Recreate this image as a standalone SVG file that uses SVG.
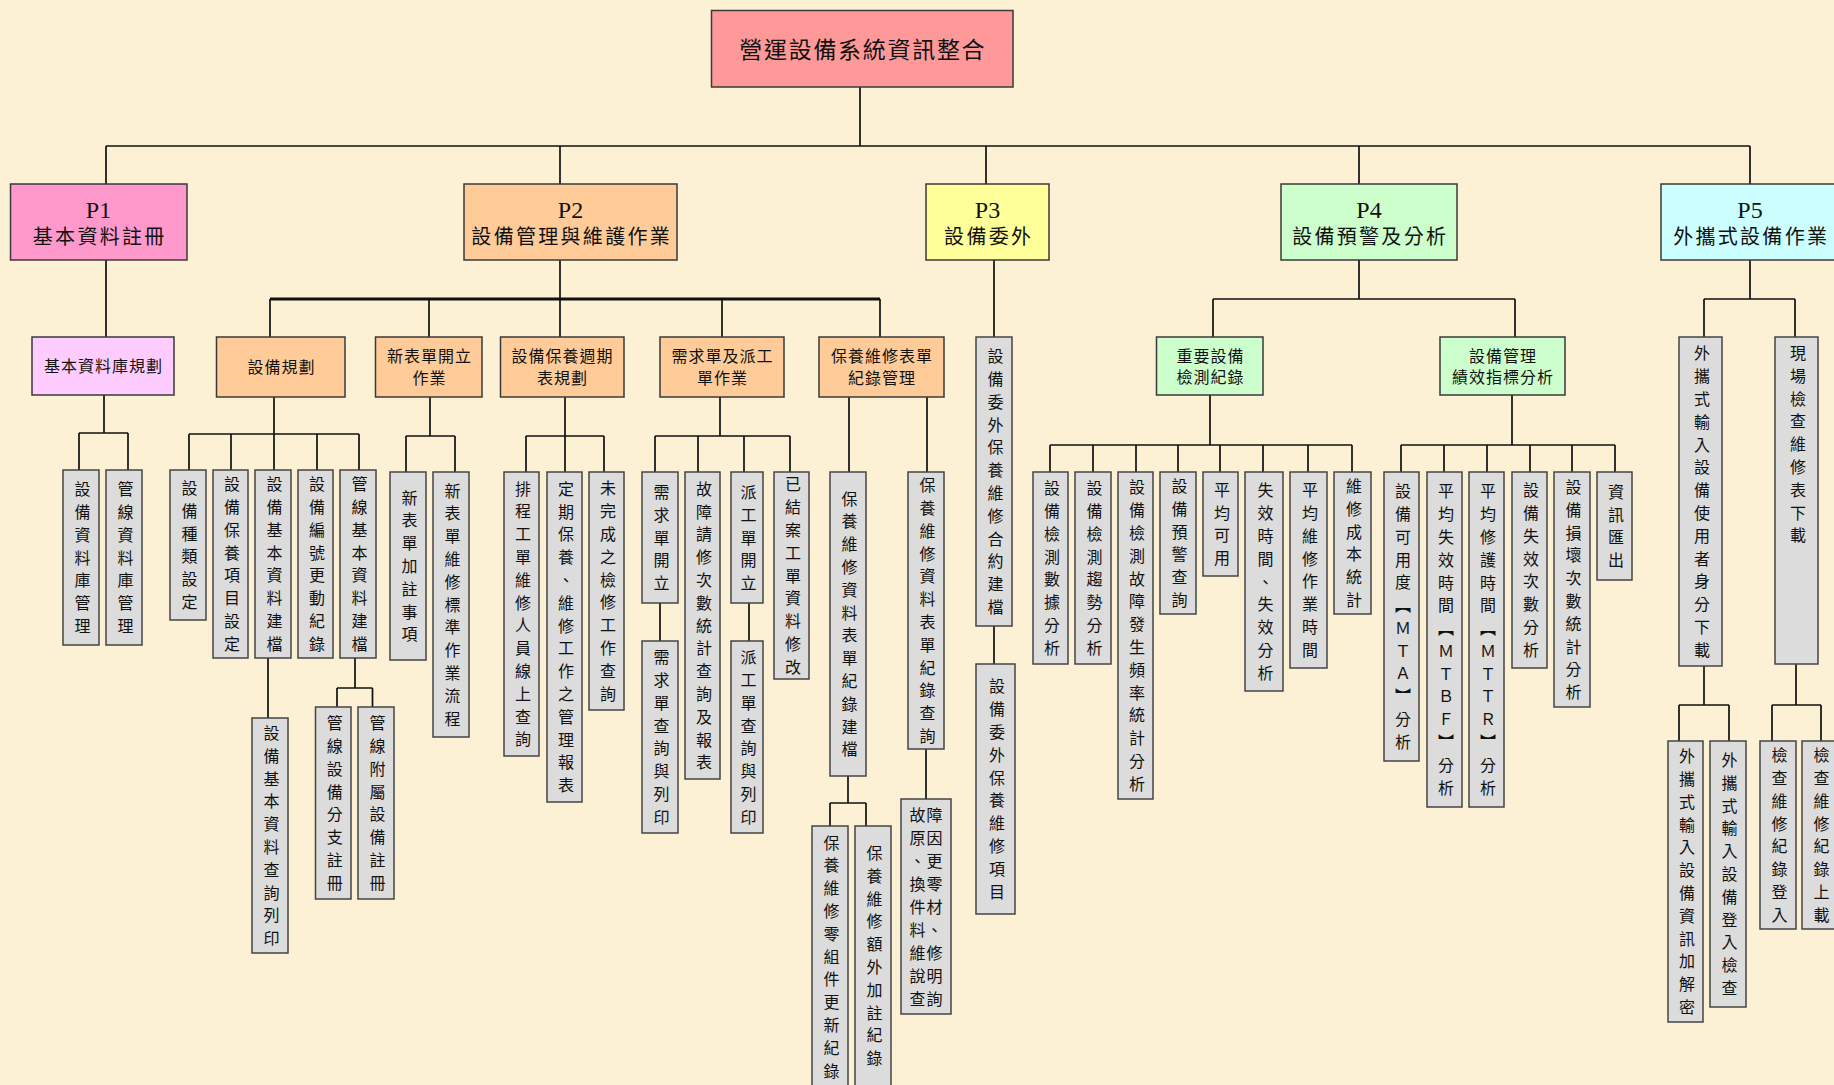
<svg xmlns="http://www.w3.org/2000/svg" width="1834" height="1085" viewBox="0 0 1834 1085">
<style>
text{font-family:"Liberation Serif","Noto Sans CJK TC","Noto Sans CJK SC",serif;fill:#111}
.box{stroke:#3a3a3a;stroke-width:1.5}
.leaf{fill:#DCDCDC;stroke:#444;stroke-width:1.5}
.c0{fill:#FF9999}.c1{fill:#FF99CC}.c2{fill:#FFCC99}.c3{fill:#FFFF99}.c4{fill:#CCFFCC}.c5{fill:#CCFFFF}.c1b{fill:#FFCCFF}
.v{writing-mode:vertical-rl;text-orientation:upright;font-size:16px;letter-spacing:6.8px;text-anchor:middle}
.vs{writing-mode:vertical-rl;text-orientation:upright;font-size:16px;letter-spacing:6.8px;text-anchor:start}
.h2{font-size:16px;letter-spacing:1px;text-anchor:middle;dominant-baseline:central}
.h1{font-size:20px;letter-spacing:2.3px;text-anchor:middle;dominant-baseline:central}
.p{font-size:24px;text-anchor:middle}
.ln{stroke:#111;stroke-width:1.7;fill:none}
.lnb{stroke:#111;stroke-width:3;fill:none}
</style>
<rect x="0" y="0" width="1834" height="1085" fill="#FCF0D5"/>

<g id="connectors">
<path class="ln" d="M860,87V146M106,146H1750M106,146V184M560,146V184M986,146V184M1359,146V184M1750,146V184"/>
<path class="ln" d="M106,260V337M104,395V433M79,433H128M79,433V470M128,433V470"/>
<path class="ln" d="M560,260V299M270,299V337M429,299V337M560,299V337M722,299V337M880,299V337"/>
<path class="lnb" d="M270,299H880"/>
<path class="ln" d="M274,397V434M189,434H359M189,434V470M231,434V470M274,434V470M317,434V470M359,434V470"/>
<path class="ln" d="M268,658V718M355,658V688M337,688H372.5M337,688V707M372.5,688V707"/>
<path class="ln" d="M430,397V436M406,436H455M406,436V472M455,436V472"/>
<path class="ln" d="M565,397V436M526,436H604M526,436V472M565,436V472M604,436V472"/>
<path class="ln" d="M720,397V436M655,436H790M655,436V472M698,436V472M744,436V472M790,436V472M660,603V641M749,603V641"/>
<path class="ln" d="M849,397V472M927,397V472M848,776V803M830,803H866M830,803V826M866,803V826M926,749V799"/>
<path class="ln" d="M994,260V337M994,626V664"/>
<path class="ln" d="M1359,260V299M1213,299H1515M1213,299V337M1515,299V337"/>
<path class="ln" d="M1210,395V445M1050,445H1352M1050,445V472M1093,445V472M1136,445V472M1178,445V472M1220,445V472M1263,445V472M1308,445V472M1352,445V472"/>
<path class="ln" d="M1512,395V445M1401,445H1615M1401,445V472M1444,445V472M1487,445V472M1530,445V472M1572,445V472M1615,445V472"/>
<path class="ln" d="M1750,260V299M1704,299H1795M1704,299V337M1795,299V337"/>
<path class="ln" d="M1704,666V705M1679,705H1729M1679,705V741M1729,705V741M1796,664V705M1772,705H1821M1772,705V741M1821,705V741"/>
</g>

<g id="root"><rect class="box c0" x="711.5" y="10.5" width="301.5" height="76.5"/><text x="862.8" y="50" style="font-size:23px;letter-spacing:1.7px;text-anchor:middle;dominant-baseline:central">營運設備系統資訊整合</text></g>

<g id="P1"><rect class="box c1" x="10.5" y="184" width="176.5" height="76"/><text class="p" x="98.5" y="218">P1</text><text class="h1" x="99.7" y="237">基本資料註冊</text></g>
<g id="P2"><rect class="box c2" x="464" y="184" width="213" height="76"/><text class="p" x="570.5" y="218">P2</text><text class="h1" x="571.7" y="237">設備管理與維護作業</text></g>
<g id="P3"><rect class="box c3" x="926" y="184" width="123" height="76"/><text class="p" x="987.5" y="218">P3</text><text class="h1" x="988.7" y="237">設備委外</text></g>
<g id="P4"><rect class="box c4" x="1281" y="184" width="176" height="76"/><text class="p" x="1369" y="218">P4</text><text class="h1" x="1370.2" y="237">設備預警及分析</text></g>
<g id="P5"><rect class="box c5" x="1661" y="184" width="180" height="76"/><text class="p" x="1750" y="218">P5</text><text class="h1" x="1751.2" y="237">外攜式設備作業</text></g>

<g id="b1"><rect class="box c1b" x="32" y="337" width="142" height="58"/><text class="h2" x="103.5" y="366">基本資料庫規劃</text></g>
<g id="b21"><rect class="box c2" x="216.5" y="337" width="128.5" height="60"/><text class="h2" x="281.5" y="367.5">設備規劃</text></g>
<g id="b22"><rect class="box c2" x="375.5" y="337" width="106.5" height="60"/><text class="h2" x="429.5" y="356.5">新表單開立</text><text class="h2" x="429.5" y="378">作業</text></g>
<g id="b23"><rect class="box c2" x="500.5" y="337" width="123.5" height="60"/><text class="h2" x="562.5" y="356.5">設備保養週期</text><text class="h2" x="562.5" y="378">表規劃</text></g>
<g id="b24"><rect class="box c2" x="660" y="337" width="124" height="60"/><text class="h2" x="722.5" y="356.5">需求單及派工</text><text class="h2" x="722.5" y="378">單作業</text></g>
<g id="b25"><rect class="box c2" x="819" y="337" width="125" height="60"/><text class="h2" x="882" y="356.5">保養維修表單</text><text class="h2" x="882" y="378">紀錄管理</text></g>
<g id="b41"><rect class="box c4" x="1156.5" y="337" width="106.5" height="58"/><text class="h2" x="1210.5" y="356">重要設備</text><text class="h2" x="1210.5" y="377.5">檢測紀錄</text></g>
<g id="b42"><rect class="box c4" x="1440" y="337" width="125" height="58"/><text class="h2" x="1503" y="356">設備管理</text><text class="h2" x="1503" y="377.5">績效指標分析</text></g>

<g id="n11"><rect class="leaf" x="63" y="470" width="36" height="175"/><text class="v" x="81" y="560.9">設備資料庫管理</text></g>
<g id="n12"><rect class="leaf" x="106" y="470" width="36" height="175"/><text class="v" x="124" y="560.9">管線資料庫管理</text></g>

<g id="n21a"><rect class="leaf" x="170" y="470" width="36" height="150"/><text class="v" x="188" y="548.4">設備種類設定</text></g>
<g id="n21b"><rect class="leaf" x="213" y="470" width="35" height="188"/><text class="v" x="230.5" y="567.4">設備保養項目設定</text></g>
<g id="n21c"><rect class="leaf" x="255" y="470" width="36" height="188"/><text class="v" x="273" y="567.4">設備基本資料建檔</text></g>
<g id="n21d"><rect class="leaf" x="298" y="470" width="35" height="188"/><text class="v" x="315.5" y="567.4">設備編號更動紀錄</text></g>
<g id="n21e"><rect class="leaf" x="340" y="470" width="36" height="188"/><text class="v" x="358" y="567.4">管線基本資料建檔</text></g>
<g id="n21c1"><rect class="leaf" x="252" y="718" width="36" height="235"/><text class="v" x="270" y="838.9">設備基本資料查詢列印</text></g>
<g id="n21e1"><rect class="leaf" x="315.5" y="707" width="35.5" height="192"/><text class="v" x="333.2" y="806.4">管線設備分支註冊</text></g>
<g id="n21e2"><rect class="leaf" x="358" y="707" width="36" height="192"/><text class="v" x="376" y="806.4">管線附屬設備註冊</text></g>

<g id="n22a"><rect class="leaf" x="390" y="472" width="36" height="188"/><text class="v" x="408" y="569.4">新表單加註事項</text></g>
<g id="n22b"><rect class="leaf" x="433" y="472" width="36" height="265"/><text class="v" x="451" y="607.9">新表單維修標準作業流程</text></g>

<g id="n23a"><rect class="leaf" x="504" y="472" width="35" height="284"/><text class="v" x="521.5" y="617.4">排程工單維修人員線上查詢</text></g>
<g id="n23b"><rect class="leaf" x="547" y="472" width="35" height="330"/><text class="v" x="564.5" y="640.4">定期保養、維修工作之管理報表</text></g>
<g id="n23c"><rect class="leaf" x="589" y="472" width="35" height="238"/><text class="v" x="606.5" y="594.4">未完成之檢修工作查詢</text></g>

<g id="n24a"><rect class="leaf" x="642" y="472" width="36" height="131"/><text class="v" x="660" y="540.9">需求單開立</text></g>
<g id="n24a1"><rect class="leaf" x="642" y="641" width="36" height="192"/><text class="v" x="660" y="740.4">需求單查詢與列印</text></g>
<g id="n24b"><rect class="leaf" x="685" y="472" width="35" height="307"/><text class="v" x="702.5" y="628.9">故障請修次數統計查詢及報表</text></g>
<g id="n24c"><rect class="leaf" x="731" y="472" width="32" height="131"/><text class="v" x="747" y="540.9">派工單開立</text></g>
<g id="n24c1"><rect class="leaf" x="731" y="641" width="32" height="192"/><text class="v" x="747" y="740.4">派工單查詢與列印</text></g>
<g id="n24d"><rect class="leaf" x="774" y="472" width="35" height="207"/><text class="v" x="791.5" y="578.9">已結案工單資料修改</text></g>

<g id="n25a"><rect class="leaf" x="830" y="472" width="36" height="304"/><text class="v" x="848" y="627.4">保養維修資料表單紀錄建檔</text></g>
<g id="n25b"><rect class="leaf" x="908" y="472" width="36" height="277"/><text class="v" x="926" y="613.9">保養維修資料表單紀錄查詢</text></g>
<g id="n25a1"><rect class="leaf" x="812" y="826" width="36" height="262"/><text class="v" x="830" y="959.9">保養維修零組件更新紀錄</text></g>
<g id="n25a2"><rect class="leaf" x="855" y="826" width="36" height="262"/><text class="v" x="873" y="958.9">保養維修額外加註紀錄</text></g>
<g id="n25b1"><rect class="leaf" x="901" y="799" width="50" height="215"/><text class="h2" x="926.5" y="815"><tspan x="926.5" y="815">故障</tspan><tspan x="926.5" y="838">原因</tspan><tspan x="926.5" y="861">、更</tspan><tspan x="926.5" y="884">換零</tspan><tspan x="926.5" y="907">件材</tspan><tspan x="926.5" y="930">料、</tspan><tspan x="926.5" y="953">維修</tspan><tspan x="926.5" y="976">說明</tspan><tspan x="926.5" y="999">查詢</tspan></text></g>

<g id="n31"><rect class="leaf" x="976" y="337" width="36" height="289"/><text class="v" x="994" y="484.9">設備委外保養維修合約建檔</text></g>
<g id="n32"><rect class="leaf" x="976" y="664" width="39" height="250"/><text class="v" x="995.5" y="792.4">設備委外保養維修項目</text></g>

<g id="n41a"><rect class="leaf" x="1033" y="472" width="35" height="192"/><text class="v" x="1050.5" y="571.4">設備檢測數據分析</text></g>
<g id="n41b"><rect class="leaf" x="1075" y="472" width="36" height="192"/><text class="v" x="1093" y="571.4">設備檢測趨勢分析</text></g>
<g id="n41c"><rect class="leaf" x="1118" y="472" width="35" height="327"/><text class="v" x="1135.5" y="638.9">設備檢測故障發生頻率統計分析</text></g>
<g id="n41d"><rect class="leaf" x="1160" y="472" width="36" height="142"/><text class="v" x="1178" y="546.4">設備預警查詢</text></g>
<g id="n41e"><rect class="leaf" x="1203" y="472" width="35" height="104"/><text class="v" x="1220.5" y="527.4">平均可用</text></g>
<g id="n41f"><rect class="leaf" x="1245" y="472" width="38" height="219"/><text class="v" x="1264" y="584.9">失效時間、失效分析</text></g>
<g id="n41g"><rect class="leaf" x="1290" y="472" width="37" height="196"/><text class="v" x="1308.5" y="573.4">平均維修作業時間</text></g>
<g id="n41h"><rect class="leaf" x="1334" y="472" width="37" height="142"/><text class="v" x="1352.5" y="546.4">維修成本統計</text></g>

<g id="n42a"><rect class="leaf" x="1384" y="472" width="35" height="289"/><text class="v" x="1401.5" y="619.9">設備可用度【ＭＴＡ】分析</text></g>
<g id="n42b"><rect class="leaf" x="1427" y="472" width="35" height="335"/><text class="v" x="1444.5" y="642.9">平均失效時間【ＭＴＢＦ】分析</text></g>
<g id="n42c"><rect class="leaf" x="1469" y="472" width="35" height="335"/><text class="v" x="1486.5" y="642.9">平均修護時間【ＭＴＴＲ】分析</text></g>
<g id="n42d"><rect class="leaf" x="1512" y="472" width="35" height="196"/><text class="v" x="1529.5" y="573.4">設備失效次數分析</text></g>
<g id="n42e"><rect class="leaf" x="1554" y="472" width="36" height="235"/><text class="v" x="1572" y="592.9">設備損壞次數統計分析</text></g>
<g id="n42f"><rect class="leaf" x="1597" y="472" width="35" height="108"/><text class="v" x="1614.5" y="529.4">資訊匯出</text></g>

<g id="n51"><rect class="leaf" x="1679" y="337" width="43" height="329"/><text class="v" x="1700.5" y="504.9">外攜式輸入設備使用者身分下載</text></g>
<g id="n52"><rect class="leaf" x="1775" y="337" width="43" height="327"/><text class="vs" x="1796.5" y="345">現場檢查維修表下載</text></g>
<g id="n51a"><rect class="leaf" x="1668" y="741" width="35" height="281"/><text class="v" x="1685.5" y="884.9">外攜式輸入設備資訊加解密</text></g>
<g id="n51b"><rect class="leaf" x="1710" y="741" width="36" height="266"/><text class="v" x="1728" y="877.4">外攜式輸入設備登入檢查</text></g>
<g id="n52a"><rect class="leaf" x="1760" y="741" width="36" height="188"/><text class="v" x="1778" y="838.4">檢查維修紀錄登入</text></g>
<g id="n52b"><rect class="leaf" x="1802" y="741" width="36" height="188"/><text class="v" x="1820" y="838.4">檢查維修紀錄上載</text></g>
</svg>
